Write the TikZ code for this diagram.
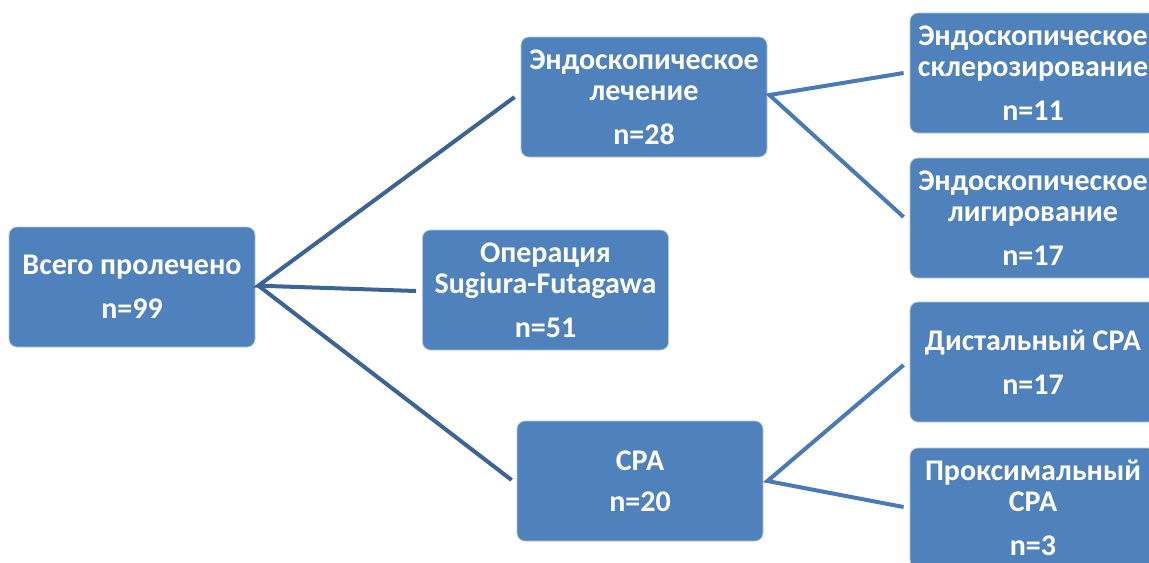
\documentclass[tikz,border=0pt]{standalone}
\usepackage{fontspec}
\setmainfont{Carlito}
\definecolor{boxblue}{HTML}{4F81BD}
\definecolor{lineL}{HTML}{3C6496}
\definecolor{lineR}{HTML}{4A7AB8}
\begin{document}
\begin{tikzpicture}[x=0.75pt,y=-0.75pt,
  stagebox/.style={rectangle, rounded corners=6pt, fill=boxblue,
    draw=white!55!boxblue, line width=0.6pt,
    minimum width=184.5pt, minimum height=90pt, inner sep=0pt,
    text=white, align=center,
    font=\fontsize{22.5}{23.25}\selectfont\bfseries},
  linkL/.style={draw=lineL, line width=3pt, line join=miter},
  linkR/.style={draw=lineR, line width=3pt, line join=miter}]
\path[use as bounding box, clip] (0,0) rectangle (1149,562);
\fill[white] (0,0) rectangle (1149,562);

\node[stagebox] (A) at (132,287) {Всего пролечено\\[9.75pt]n=99};
\node[stagebox] (B) at (644,97) {Эндоскопическое\\лечение\\[9.75pt]n=28};
\node[stagebox] (C) at (545.5,290) {Операция\\Sugiura-Futagawa\\[9.75pt]n=51};
\node[stagebox] (D) at (640,481) {СРА\\[7.5pt]n=20};
\node[stagebox] (E1) at (1033,73) {Эндоскопическое\\склерозирование\\[9.75pt]n=11};
\node[stagebox] (E2) at (1033,218) {Эндоскопическое\\лигирование\\[9.75pt]n=17};
\node[stagebox] (F1) at (1033,362) {Дистальный СРА\\[9.75pt]n=17};
\node[stagebox] (F2) at (1033,508) {Проксимальный\\СРА\\[9.75pt]n=3};

\coordinate (oA) at ([xshift=2.25pt,yshift=1pt]A.east);
\coordinate (oB) at ([xshift=1.5pt,yshift=1.5pt]B.east);
\coordinate (oD) at ([xshift=3pt]D.east);

\draw[linkL] ([xshift=-4.5pt]B.west) -- (oA) -- ([xshift=-4.5pt,yshift=-0.75pt]C.west);
\draw[linkL] (oA) -- ([xshift=-3.75pt,yshift=0.75pt]D.west);
\draw[linkR] ([xshift=-4.5pt]E1.west) -- (oB) -- ([xshift=-4.5pt,yshift=0.75pt]E2.west);
\draw[linkR] ([xshift=-4.5pt,yshift=-2.25pt]F1.west) -- (oD) -- ([xshift=-4.5pt,yshift=0.75pt]F2.west);
\end{tikzpicture}
\end{document}
